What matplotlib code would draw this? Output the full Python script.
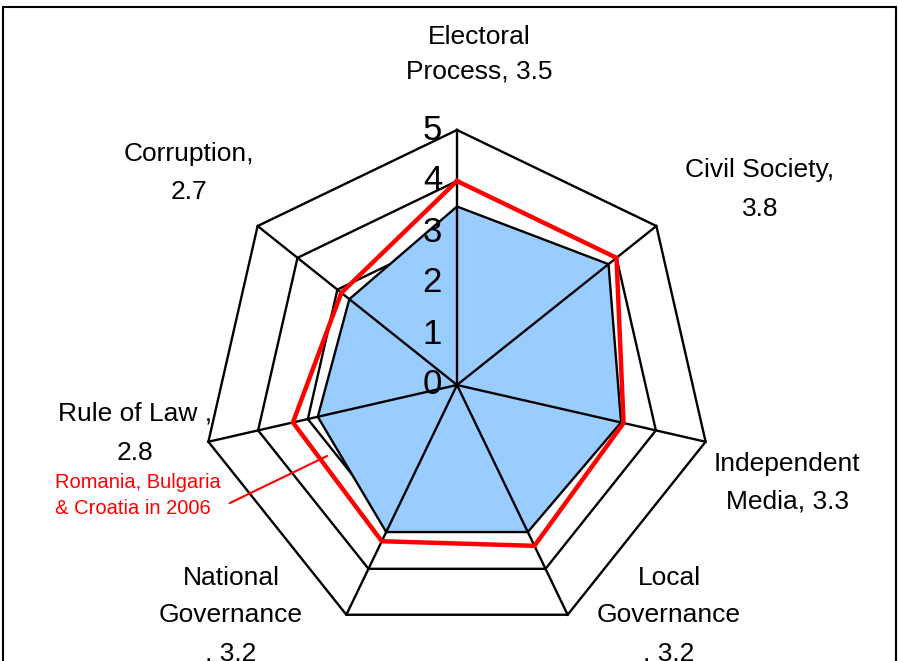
import numpy as np
import matplotlib.pyplot as plt
from matplotlib.patches import Rectangle

plt.rcParams['font.family'] = ['Liberation Sans', 'DejaVu Sans']

W, H = 898, 661

# data
categories = ["Electoral Process", "Civil Society", "Independent Media", "Local Governance",
              "National Governance", "Rule of Law", "Corruption"]
scores = [3.5, 3.8, 3.3, 3.2, 3.2, 2.8, 2.7]
scores_2006 = [4.0, 4.0, 3.35, 3.5, 3.4, 3.3, 2.9]
ring_levels = [1, 2, 3, 4, 5]
tick_labels = ["0", "1", "2", "3", "4", "5"]
axis_labels = [["Electoral", "Process, 3.5"],
               ["Civil Society,", "3.8"],
               ["Independent", "Media, 3.3"],
               ["Local", "Governance", ", 3.2"],
               ["National", "Governance", ", 3.2"],
               ["Rule of Law ,", "2.8"],
               ["Corruption,", "2.7"]]
note_lines = ["Romania, Bulgaria", "& Croatia in 2006"]

# label placement in pixels: (x centre, first baseline, line step)
label_pos = [(479, 43.5, 35), (760, 177.5, 38), (787, 471, 37.5), (669, 585, 37.5),
             (231, 585, 37.5), (135, 421, 38.5), (189, 161, 37.5)]


def fx(x):
    return x / W


def fy(y):
    return 1 - y / H


fig = plt.figure(figsize=(W / 100, H / 100), dpi=100)
cx, cy, R = 457, 385, 255
ax = fig.add_axes([fx(cx - R), fy(cy + R), 2 * R / W, 2 * R / H], projection='polar')
ax.set_theta_offset(np.pi / 2)
ax.set_theta_direction(-1)
ax.set_ylim(0, 5)
ax.set_axis_off()

theta = np.linspace(0, 2 * np.pi, len(categories), endpoint=False)
closed = np.append(theta, theta[0])

# grid rings
for lvl in ring_levels:
    ax.plot(closed, [lvl] * len(closed), color='black', lw=1.7, zorder=1, clip_on=False)

# filled series
vals = np.append(scores, scores[0])
ax.fill(closed, vals, facecolor='#99CCFF', edgecolor='black', lw=1.7, zorder=2, clip_on=False)

# spokes
for t in theta:
    ax.plot([t, t], [0, 5], color='black', lw=1.7, zorder=3, clip_on=False)

# 2006 line
vals06 = np.append(scores_2006, scores_2006[0])
ax.plot(closed, vals06, color='red', lw=3.2, zorder=4, clip_on=False, solid_joinstyle='miter')

# radial tick labels
for v, s in enumerate(tick_labels):
    ax.annotate(s, xy=(0, v), xytext=(-15, 0), textcoords='offset pixels',
                ha='right', va='center', fontsize=25, zorder=5)

# category labels
for lines, (x, y0, step) in zip(axis_labels, label_pos):
    for i, line in enumerate(lines):
        fig.text(fx(x), fy(y0 + i * step), line, ha='center', va='baseline', fontsize=19)

# red note with leader line
for i, line in enumerate(note_lines):
    fig.text(fx(55), fy(487.5 + i * 26), line, ha='left', va='baseline', fontsize=14.5,
             color='red')
fig.add_artist(plt.Line2D([fx(230), fx(327)], [fy(503), fy(456)], color='red', lw=1.5,
                          transform=fig.transFigure))

# outer frame
fig.add_artist(Rectangle((fx(3), -0.1), (896 - 3) / W, fy(7) + 0.1, fill=False,
                         edgecolor='black', lw=1.5, transform=fig.transFigure))

fig.savefig('out.png', dpi=100)
